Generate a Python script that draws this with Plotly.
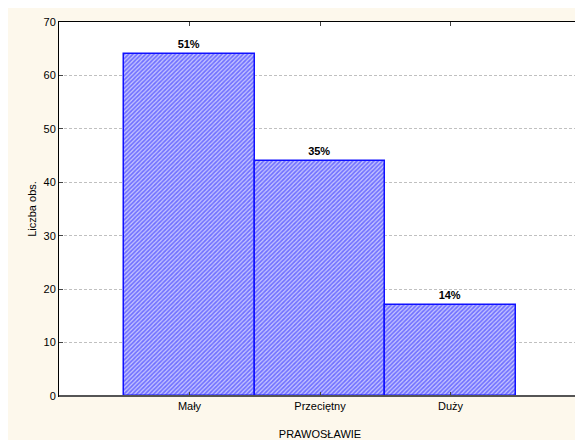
import plotly.graph_objects as go

# Dane z wykresu
kategorie = ["Mały", "Przeciętny", "Duży"]
liczba_obs = [64, 44, 17]
procenty = ["51%", "35%", "14%"]
y_ticks = [0, 10, 20, 30, 40, 50, 60, 70]

CREAM = "#fdf8ec"
FONT = "Liberation Sans, Arial, sans-serif"

fig = go.Figure()

fig.add_trace(go.Bar(
    x=[0, 1, 2],
    y=liczba_obs,
    width=1.0,
    text=["<b>" + p + "</b>" for p in procenty],
    textposition="outside",
    textfont=dict(family=FONT, size=11, color="black"),
    cliponaxis=False,
    marker=dict(
        color="white",
        line=dict(color="#1010ff", width=1.5),
        pattern=dict(shape="/", fgcolor="#1a1aff", bgcolor="#c4c4ff",
                     size=3, solidity=0.55),
    ),
    hoverinfo="none",
))

# Szara ramka prawa i dolna
fig.add_shape(type="line", xref="paper", yref="paper",
              x0=1, x1=1, y0=0, y1=1, line=dict(color="#666666", width=2))
fig.add_shape(type="line", xref="paper", yref="paper",
              x0=0, x1=1, y0=0, y1=0, line=dict(color="#555555", width=2))

fig.update_layout(
    width=583,
    height=440,
    margin=dict(l=51, r=10, t=14, b=52),
    paper_bgcolor=CREAM,
    plot_bgcolor="white",
    bargap=0,
    showlegend=False,
    font=dict(family=FONT, size=11, color="black"),
    xaxis=dict(
        range=[-1, 3],
        tickvals=[0, 1, 2],
        ticktext=kategorie,
        showgrid=False,
        zeroline=False,
        showline=True,
        linecolor="black",
        linewidth=1,
        mirror="ticks",
        ticks="inside",
        ticklen=4,
        tickcolor="#444444",
        automargin=False,
        title=dict(text="PRAWOSŁAWIE", font=dict(size=11), standoff=19),
    ),
    yaxis=dict(
        range=[0, 70],
        tickvals=y_ticks,
        showgrid=True,
        gridcolor="#c0c0c0",
        griddash="3px,2px",
        gridwidth=1,
        zeroline=False,
        showline=True,
        linecolor="black",
        linewidth=1,
        mirror="ticks",
        ticks="inside",
        ticklen=4,
        tickcolor="#444444",
        automargin=False,
        title=dict(text="Liczba obs.", font=dict(size=11), standoff=4),
    ),
)

fig.write_html("out.html")
